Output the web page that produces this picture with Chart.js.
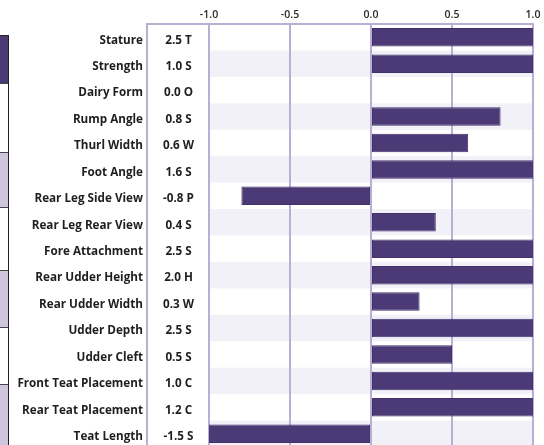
<!DOCTYPE html>
<html>
<head>
<meta charset="utf-8">
<script src="https://cdn.jsdelivr.net/npm/chart.js@4/dist/chart.umd.min.js"></script>
<style>
html, body { margin:0; padding:0; width:544px; height:445px; overflow:hidden; background:#fff; }
#wrap { position:absolute; left:0; top:0; width:544px; height:447px; }
.deco { position:absolute; left:0; width:9px; border-right:1.5px solid #222; border-bottom:1.5px solid #444; box-sizing:border-box; }
</style>
</head>
<body>
<div class="deco" style="top:35px;height:49px;background:#4b3a75;border-top:1.5px solid #222;"></div>
<div class="deco" style="top:84px;height:69px;background:#fff;"></div>
<div class="deco" style="top:153px;height:55px;background:#cdc6dc;"></div>
<div class="deco" style="top:208px;height:63px;background:#fff;"></div>
<div class="deco" style="top:271px;height:57px;background:#cdc6dc;"></div>
<div class="deco" style="top:328px;height:57px;background:#fff;"></div>
<div class="deco" style="top:385px;height:70px;background:#cdc6dc;border-bottom:none;"></div>
<div id="wrap"><canvas id="c"></canvas></div>
<script>
const traits = ["Stature","Strength","Dairy Form","Rump Angle","Thurl Width","Foot Angle","Rear Leg Side View","Rear Leg Rear View","Fore Attachment","Rear Udder Height","Rear Udder Width","Udder Depth","Udder Cleft","Front Teat Placement","Rear Teat Placement","Teat Length"];
const values = [2.5, 1.0, 0.0, 0.8, 0.6, 1.6, -0.8, 0.4, 2.5, 2.0, 0.3, 2.5, 0.5, 1.0, 1.2, -1.5];
const codes = ["T","S","O","S","W","S","P","S","S","H","W","S","S","C","C","S"];
const xTicks = [-1.0, -0.5, 0.0, 0.5, 1.0];

const valueLabels = values.map((v, i) => v.toFixed(1) + " " + codes[i]);

const FRAME = "#b9aed3";
const FONT = "'Open Sans'";

const shadePlugin = {
  id: "shade",
  beforeDraw(chart) {
    const {ctx, chartArea} = chart;
    const y = chart.scales.y;
    if (!y) return;
    ctx.save();
    ctx.fillStyle = "#f2f1f7";
    const band = (y.getPixelForValue(1) - y.getPixelForValue(0));
    for (let i = 1; i < traits.length; i += 2) {
      const c = y.getPixelForValue(i);
      ctx.fillRect(chartArea.left, c - band / 2, chartArea.right - chartArea.left, band);
    }
    ctx.restore();
  }
};
const topLine = {
  id: "topline",
  afterDraw(chart) {
    const {ctx, chartArea} = chart;
    const y = chart.scales.y;
    ctx.save();
    ctx.strokeStyle = FRAME;
    ctx.lineWidth = 2;
    ctx.beginPath();
    ctx.moveTo(y.right - 1, chartArea.top);
    ctx.lineTo(chartArea.right + 1, chartArea.top);
    ctx.stroke();
    ctx.restore();
  }
};

function noPad(s) { s.paddingTop = 0; s.paddingBottom = 0; }

new Chart(document.getElementById("c"), {
  type: "bar",
  data: {
    labels: traits,
    datasets: [{
      data: values,
      backgroundColor: "#4b3a75",
      borderColor: "#42316b",
      borderWidth: 1,
      borderSkipped: false,
      categoryPercentage: 1.0,
      barPercentage: 0.7
    }]
  },
  options: {
    indexAxis: "y",
    responsive: true,
    maintainAspectRatio: false,
    animation: false,
    layout: { padding: { left: 0, right: 11, top: 0, bottom: 0 } },
    plugins: { legend: { display: false }, tooltip: { enabled: false } },
    scales: {
      x: {
        position: "top",
        min: -1, max: 1,
        afterBuildTicks(s) { s.ticks = xTicks.map(v => ({ value: v })); },
        afterFit(s) { s.height = 24; s.paddingLeft = 0; s.paddingRight = 0; },
        ticks: {
          padding: 3,
          color: "#2a2a2a",
          font: { family: FONT, size: 10.5, weight: "600" },
          callback: v => Number(v).toFixed(1)
        },
        grid: { color: FRAME, lineWidth: 2, drawTicks: false },
        border: { display: false }
      },
      y: {
        position: "left",
        weight: 1,
        afterFit(s) { s.width = 147; noPad(s); },
        ticks: {
          padding: 4,
          labelOffset: 3,
          color: "#1e1e1e",
          font: { family: FONT, size: 11.7, weight: "bold" }
        },
        grid: { display: false, drawTicks: false },
        border: { display: true, color: FRAME, width: 2 }
      },
      yv: {
        type: "category",
        position: "left",
        weight: 0,
        labels: valueLabels,
        afterFit(s) { s.width = 62; noPad(s); },
        ticks: {
          crossAlign: "center",
          padding: 15,
          labelOffset: 3,
          color: "#1e1e1e",
          font: { family: FONT, size: 11.7, weight: "bold" }
        },
        grid: { display: false, drawTicks: false },
        border: { display: true, color: FRAME, width: 2 }
      }
    }
  },
  plugins: [shadePlugin, topLine]
});
</script>
</body>
</html>
